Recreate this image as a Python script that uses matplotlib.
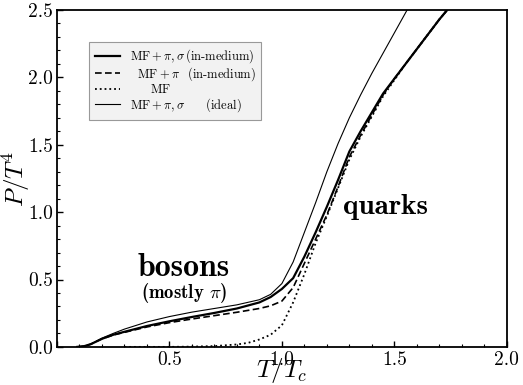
import matplotlib
matplotlib.use('Agg')
import matplotlib.pyplot as plt
from matplotlib.ticker import MultipleLocator

plt.rcParams['font.family'] = 'serif'
plt.rcParams['font.serif'] = ['cmr10']
plt.rcParams['mathtext.fontset'] = 'cm'
plt.rcParams['axes.formatter.use_mathtext'] = True

# pressure curves P/T^4 vs T/Tc
t_full = [0.09, 0.12, 0.15, 0.2, 0.25, 0.3, 0.4, 0.5, 0.6, 0.7, 0.8, 0.9, 0.95,
          1.0, 1.05, 1.1, 1.15, 1.2, 1.25, 1.3, 1.35, 1.4, 1.45, 1.5, 1.55,
          1.6, 1.65, 1.7, 1.74]
p_full = [0.0, 0.005, 0.02, 0.06, 0.09, 0.112, 0.155, 0.19, 0.222, 0.252, 0.285,
          0.33, 0.37, 0.43, 0.51, 0.67, 0.85, 1.04, 1.24, 1.45, 1.6, 1.74, 1.88,
          1.99, 2.1, 2.21, 2.32, 2.43, 2.51]

t_pion = [0.09, 0.12, 0.15, 0.2, 0.25, 0.3, 0.4, 0.5, 0.6, 0.7, 0.8, 0.9, 0.95,
          1.0, 1.05, 1.1, 1.15, 1.2, 1.25, 1.3, 1.35, 1.4, 1.45, 1.5, 1.55,
          1.6, 1.65, 1.7, 1.74]
p_pion = [0.0, 0.005, 0.02, 0.06, 0.088, 0.108, 0.148, 0.18, 0.207, 0.232, 0.257,
          0.285, 0.305, 0.34, 0.44, 0.62, 0.8, 0.98, 1.19, 1.41, 1.57, 1.72, 1.87,
          1.99, 2.1, 2.21, 2.32, 2.43, 2.51]

t_mf = [0.3, 0.5, 0.6, 0.7, 0.8, 0.85, 0.9, 0.95, 1.0, 1.05, 1.1, 1.15, 1.2,
        1.25, 1.3, 1.35, 1.4, 1.45, 1.5, 1.55, 1.6, 1.65, 1.7, 1.74]
p_mf = [0.0, 0.0, 0.002, 0.006, 0.018, 0.03, 0.055, 0.09, 0.16, 0.33, 0.54,
        0.77, 0.97, 1.18, 1.39, 1.56, 1.71, 1.86, 1.98, 2.1, 2.21, 2.32, 2.43, 2.51]

t_ideal = [0.09, 0.12, 0.15, 0.2, 0.25, 0.3, 0.4, 0.5, 0.6, 0.7, 0.8, 0.9, 0.95,
           1.0, 1.05, 1.1, 1.15, 1.2, 1.25, 1.3, 1.35, 1.4, 1.45, 1.5, 1.56]
p_ideal = [0.0, 0.005, 0.02, 0.065, 0.1, 0.132, 0.185, 0.225, 0.258, 0.285, 0.312,
           0.35, 0.39, 0.47, 0.63, 0.85, 1.07, 1.3, 1.51, 1.7, 1.87, 2.03, 2.18,
           2.33, 2.51]

labels = [r'$\mathrm{MF}+\pi,\sigma\,$(in-medium)',
          r'$\ \ \mathrm{MF}+\pi\ \ \,$(in-medium)',
          r'$\qquad\!\mathrm{MF}$',
          r'$\mathrm{MF}+\pi,\sigma\qquad$(ideal)']

fig = plt.figure(figsize=(5.23, 3.85), dpi=100)
ax = fig.add_axes([0.109, 0.099, 0.86, 0.875])

ax.plot(t_full, p_full, 'k-', lw=1.6, label=labels[0])
ax.plot(t_pion, p_pion, 'k--', lw=1.2, dashes=(4, 2), label=labels[1])
ax.plot(t_mf, p_mf, 'k:', lw=1.3, label=labels[2])
ax.plot(t_ideal, p_ideal, 'k-', lw=0.8, label=labels[3])

ax.set_xlim(0, 2.0)
ax.set_ylim(0, 2.5)
ax.xaxis.set_major_locator(MultipleLocator(0.5))
ax.xaxis.set_minor_locator(MultipleLocator(0.1))
ax.yaxis.set_major_locator(MultipleLocator(0.5))
ax.yaxis.set_minor_locator(MultipleLocator(0.1))
ax.xaxis.set_major_formatter(plt.FuncFormatter(lambda v, p: '' if v == 0 else '%.1f' % v))
ax.yaxis.set_major_formatter(plt.FuncFormatter(lambda v, p: '%.1f' % v))
ax.tick_params(which='both', direction='in', top=False, right=False, labelsize=14)
ax.tick_params(which='major', length=4, width=1, pad=3)
ax.tick_params(which='minor', length=2.5, width=0.8)
for s in ax.spines.values():
    s.set_linewidth(1.3)

ax.set_xlabel(r'$T/T_c$', fontsize=18)
ax.set_ylabel(r'$P/T^4$', fontsize=18)
ax.xaxis.set_label_coords(0.5, -0.028)
ax.yaxis.set_label_coords(-0.056, 0.5)

ax.text(0.564, 0.59, 'bosons', family='cmb10', fontsize=23, ha='center', va='center')
ax.text(0.564, 0.40, r'(mostly $\pi$)', family='cmb10', fontsize=13.5, ha='center', va='center')
ax.text(1.46, 1.04, 'quarks', family='cmb10', fontsize=21, ha='center', va='center')

leg = ax.legend(loc='upper left', bbox_to_anchor=(0.071, 0.905), borderaxespad=0,
                fontsize=9, frameon=True, fancybox=False, edgecolor='#999999',
                facecolor='#f2f2f2', framealpha=1, handlelength=2.0,
                handletextpad=0.8, labelspacing=0.0, borderpad=0.45)
leg.get_frame().set_linewidth(0.8)

fig.savefig('out.png', dpi=100)
